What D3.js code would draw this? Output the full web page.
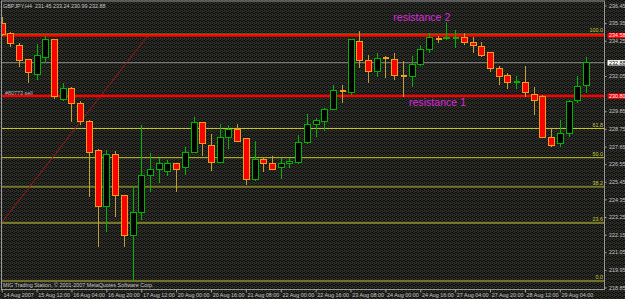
<!DOCTYPE html>
<html>
<head>
<meta charset="utf-8">
<script src="https://cdn.jsdelivr.net/npm/d3@7"></script>
<style>
  html, body { margin: 0; padding: 0; background: #1f1f1c; }
  svg { display: block; font-family: "Liberation Sans", Arial, sans-serif; }
</style>
</head>
<body>
<div id="chart"></div>
<script>
const title = 'GBPJPY,H4  231.45 233.24 230.99 232.88';
const footer = 'MIG Trading Station, \u00a9 2001-2007 MetaQuotes Software Corp.';
const orderLabel = '#80773 sell';

// H4 bars, left to right
const opens = [235.30, 234.73, 233.98, 233.05, 232.17, 233.23, 234.30, 230.61, 231.30, 230.36,
  229.18, 227.43, 223.93, 227.12, 224.62, 222.12, 223.50, 225.87, 226.24, 226.06,
  226.56, 226.31, 227.30, 229.12, 227.74, 226.68, 228.24, 228.74, 228.12, 225.56,
  226.81, 226.56, 226.31, 226.56, 226.68, 227.87, 229.05, 229.24, 229.99, 231.11,
  231.05, 234.23, 232.99, 232.30, 233.17, 233.11, 232.05, 231.99, 232.74, 233.73,
  234.36, 234.36, 234.42, 234.48, 234.17, 233.92, 233.49, 232.49, 232.11, 231.67,
  231.67, 230.92, 230.74, 228.24, 227.81, 228.49, 230.49, 231.45];
const highs = [235.73, 234.80, 234.11, 233.11, 234.05, 234.55, 234.36, 231.61, 231.36, 230.49,
  229.30, 227.49, 227.43, 227.37, 224.65, 225.18, 228.99, 227.24, 226.93, 226.81,
  226.62, 227.62, 229.49, 229.18, 228.43, 229.05, 228.99, 229.05, 228.18, 227.99,
  226.99, 227.05, 226.93, 226.93, 228.37, 229.68, 229.40, 230.05, 231.49, 231.49,
  234.36, 234.86, 233.36, 233.49, 233.30, 233.49, 232.99, 233.30, 233.98, 234.73,
  234.55, 235.42, 234.92, 234.73, 234.48, 234.17, 233.55, 232.67, 232.24, 232.05,
  232.67, 231.36, 230.86, 228.80, 229.30, 230.55, 232.05, 233.24];
const lows = [234.55, 233.86, 232.61, 231.61, 231.80, 232.86, 230.61, 230.49, 229.18, 228.99,
  224.49, 221.38, 222.31, 223.25, 221.38, 219.25, 223.06, 224.81, 225.37, 225.81,
  224.81, 225.87, 227.24, 227.05, 226.12, 226.62, 227.49, 227.93, 225.25, 225.50,
  226.06, 226.18, 225.62, 226.31, 226.56, 227.81, 228.24, 228.62, 229.90, 230.36,
  230.86, 232.55, 231.61, 231.99, 231.92, 231.80, 230.74, 231.36, 232.67, 233.49,
  234.11, 234.30, 233.80, 233.98, 233.49, 233.23, 232.30, 231.49, 231.24, 231.24,
  230.74, 229.61, 228.18, 227.62, 227.62, 228.24, 230.36, 230.99];
const closes = [234.67, 234.05, 232.99, 232.24, 233.30, 234.30, 230.74, 231.24, 230.36, 229.18,
  227.30, 223.93, 227.12, 224.62, 222.12, 223.50, 225.87, 226.24, 226.56, 226.62,
  226.24, 227.30, 229.12, 227.81, 226.68, 228.24, 228.74, 227.99, 225.56, 226.81,
  226.56, 226.24, 226.56, 226.74, 227.93, 229.05, 229.30, 229.93, 231.17, 231.11,
  234.30, 232.99, 232.30, 233.17, 233.17, 232.11, 232.05, 232.74, 233.73, 234.48,
  234.36, 234.48, 234.43, 234.11, 233.98, 233.36, 232.49, 232.05, 231.67, 231.68,
  230.99, 230.49, 228.24, 227.74, 228.49, 230.43, 231.42, 232.88];

const xTickBars = [0, 4, 8, 12, 16, 20, 24, 28, 32, 36, 40, 44, 48, 52, 56, 60, 64];
const xTickLabels = ['14 Aug 2007', '15 Aug 12:00', '16 Aug 04:00', '16 Aug 20:00', '17 Aug 12:00',
  '20 Aug 00:00', '20 Aug 16:00', '21 Aug 08:00', '22 Aug 00:00', '22 Aug 16:00', '23 Aug 08:00',
  '24 Aug 00:00', '24 Aug 16:00', '27 Aug 04:00', '27 Aug 20:00', '28 Aug 12:00', '29 Aug 04:00'];
const yTicks = [236.45, 235.35, 234.25, 233.15, 232.05, 230.95, 229.85, 228.75, 227.65,
  226.55, 225.45, 224.35, 223.25, 222.15, 221.05, 219.95, 218.85];

const fibLevels = [100, 61.8, 50, 38.2, 23.6, 0];
const fibHigh = 234.66;
const fibLow = 219.25;

const resistanceNames = ['resistance 2', 'resistance 1'];
const resistancePrices = [234.58, 230.80];
const resistanceTextBars = [44.9, 46.7];
const resistanceTextPrices = [235.50, 230.18];

const bidPrice = 232.88;
const trendBars = [0, 16.8];
const trendPrices = [222.90, 234.60];

const W = 625, H = 299;
const PLOT = { left: 1.5, top: 1, right: 604.5, bottom: 289.5 };
const FONT = 5.4;

const x = d3.scaleLinear().domain([0, 64]).range([1.7, 559.8]);
const y = d3.scaleLinear().domain([218.85, 236.45]).range([287.5, 5.5]);

const svg = d3.select('#chart').append('svg')
  .attr('width', W).attr('height', H).attr('viewBox', `0 0 ${W} ${H}`);

// speckled MT4 background
const defs = svg.append('defs');
const pat = defs.append('pattern').attr('id', 'noise')
  .attr('width', 4).attr('height', 4).attr('patternUnits', 'userSpaceOnUse');
pat.append('rect').attr('width', 4).attr('height', 4).attr('fill', '#2d2d29');
[[0, 0], [2, 1], [1, 3], [3, 2], [3, 0], [1, 1]].forEach(([a, b]) =>
  pat.append('rect').attr('x', a).attr('y', b).attr('width', 1).attr('height', 1).attr('fill', '#0b0b0a'));
svg.append('rect').attr('width', W).attr('height', H).attr('fill', 'url(#noise)');

defs.append('clipPath').attr('id', 'plot')
  .append('rect').attr('x', PLOT.left + 0.5).attr('y', PLOT.top + 0.5)
  .attr('width', PLOT.right - PLOT.left - 1).attr('height', PLOT.bottom - PLOT.top - 1);

const g = svg.append('g').attr('clip-path', 'url(#plot)');

// fibonacci levels
const fibPrice = (lv) => fibLow + (fibHigh - fibLow) * lv / 100;
const fibStyle = (lv) => (lv === 38.2 || lv === 23.6) ? { c: '#76762a', w: 2.2 }
  : lv === 0 ? { c: '#8e8e2c', w: 1.5 } : { c: '#c4c426', w: 1 };
g.selectAll('line.fib').data(fibLevels).join('line').attr('class', 'fib')
  .attr('x1', PLOT.left).attr('x2', PLOT.right)
  .attr('y1', (d) => y(fibPrice(d))).attr('y2', (d) => y(fibPrice(d)))
  .attr('stroke', (d) => fibStyle(d).c).attr('stroke-width', (d) => fibStyle(d).w);
g.selectAll('text.fib').data(fibLevels).join('text').attr('class', 'fib')
  .attr('x', PLOT.right - 1.5).attr('y', (d) => y(fibPrice(d)) - 1.8)
  .attr('text-anchor', 'end').attr('font-size', FONT).attr('fill', '#c8c83a')
  .text((d) => d.toFixed(1));

// bid line
g.append('line').attr('x1', PLOT.left).attr('x2', PLOT.right)
  .attr('y1', y(bidPrice)).attr('y2', y(bidPrice))
  .attr('stroke', '#8a8a8a').attr('stroke-width', 1);

// trend line
g.append('line')
  .attr('x1', x(trendBars[0])).attr('y1', y(trendPrices[0]))
  .attr('x2', x(trendBars[1])).attr('y2', y(trendPrices[1]))
  .attr('stroke', '#a01818').attr('stroke-width', 1);

// resistance lines
g.selectAll('line.res').data(resistancePrices).join('line').attr('class', 'res')
  .attr('x1', PLOT.left).attr('x2', PLOT.right)
  .attr('y1', (d) => y(d)).attr('y2', (d) => y(d))
  .attr('stroke', '#ff0000').attr('stroke-width', 2.6);

// candles
const bars = d3.range(opens.length);
const BULL = '#00b400', BEAR_FILL = '#ff0000', BEAR_EDGE = '#e8a018', BEAR_WICK = '#c0a030';
const candles = g.append('g').attr('shape-rendering', 'crispEdges');
candles.selectAll('line.wick').data(bars).join('line').attr('class', 'wick')
  .attr('x1', (i) => Math.round(x(i)) + 0.5).attr('x2', (i) => Math.round(x(i)) + 0.5)
  .attr('y1', (i) => y(highs[i])).attr('y2', (i) => y(lows[i]))
  .attr('stroke', (i) => closes[i] > opens[i] ? BULL : BEAR_WICK);
candles.selectAll('rect.body').data(bars.filter((i) => Math.abs(closes[i] - opens[i]) > 0.015))
  .join('rect').attr('class', 'body')
  .attr('x', (i) => Math.round(x(i)) - 2.5).attr('width', 6)
  .attr('y', (i) => y(Math.max(opens[i], closes[i])))
  .attr('height', (i) => Math.max(1, y(Math.min(opens[i], closes[i])) - y(Math.max(opens[i], closes[i]))))
  .attr('fill', (i) => closes[i] > opens[i] ? '#000000' : BEAR_FILL)
  .attr('stroke', (i) => closes[i] > opens[i] ? BULL : BEAR_EDGE);
candles.selectAll('line.doji').data(bars.filter((i) => Math.abs(closes[i] - opens[i]) <= 0.015))
  .join('line').attr('class', 'doji')
  .attr('x1', (i) => Math.round(x(i)) - 2.5).attr('x2', (i) => Math.round(x(i)) + 3.5)
  .attr('y1', (i) => y(opens[i])).attr('y2', (i) => y(opens[i]))
  .attr('stroke', (i) => closes[i] > opens[i] ? BULL : '#f0a020').attr('stroke-width', 1.4);

// resistance captions
g.selectAll('text.res').data(resistanceNames).join('text').attr('class', 'res')
  .attr('x', (d, i) => x(resistanceTextBars[i])).attr('y', (d, i) => y(resistanceTextPrices[i]))
  .attr('font-size', 10.6).attr('fill', '#dc28dc').text((d) => d);

// frame
svg.append('rect').attr('x', PLOT.left).attr('y', PLOT.top)
  .attr('width', PLOT.right - PLOT.left).attr('height', PLOT.bottom - PLOT.top)
  .attr('fill', 'none').attr('stroke', '#9a9a9a').attr('stroke-width', 1);

// texts in the plot
svg.append('text').attr('x', 3).attr('y', 8.2).attr('font-size', FONT)
  .attr('fill', '#c8c8c8').attr('xml:space', 'preserve').text(title);
svg.append('text').attr('x', 3).attr('y', 287.2).attr('font-size', FONT)
  .attr('fill', '#c8c8c8').text(footer);
svg.append('text').attr('x', 5).attr('y', 95).attr('font-size', FONT)
  .attr('fill', '#b8b8b8').text(orderLabel);

// price tags on the axis (they hide the grid labels beneath them)
const tagPrices = [resistancePrices[0], bidPrice, resistancePrices[1]];
const tagFill = ['#ff0000', '#ffffff', '#ff0000'];
const tagText = ['#ffffff', '#000000', '#ffffff'];
const visibleTicks = yTicks.filter((t) => tagPrices.every((p) => Math.abs(y(t) - y(p)) > 4.6));

// right price axis
const yAxis = d3.axisRight(y).tickValues(visibleTicks).tickSize(2).tickPadding(2.5)
  .tickFormat((d) => d.toFixed(2));
const ya = svg.append('g').attr('transform', `translate(${PLOT.right},0)`).call(yAxis);
ya.select('.domain').remove();
ya.selectAll('line').attr('stroke', '#a0a0a0');
ya.selectAll('text').attr('font-size', FONT).attr('fill', '#c4c4c4')
  .attr('font-family', '"Liberation Sans", Arial, sans-serif');

// bottom time axis
const xAxis = d3.axisBottom(x).tickValues(xTickBars).tickSize(3).tickPadding(1)
  .tickFormat((d, i) => xTickLabels[i]);
const xa = svg.append('g').attr('transform', `translate(0,${PLOT.bottom})`).call(xAxis);
xa.select('.domain').remove();
xa.selectAll('line').attr('stroke', '#a0a0a0');
xa.selectAll('text').attr('font-size', FONT).attr('fill', '#c4c4c4')
  .attr('text-anchor', 'start').attr('dx', 1.2)
  .attr('font-family', '"Liberation Sans", Arial, sans-serif');

const tags = svg.append('g');
tags.selectAll('rect').data(tagPrices).join('rect')
  .attr('x', PLOT.right + 3).attr('width', W - PLOT.right - 3)
  .attr('y', (d) => y(d) - 2.6).attr('height', 5.4)
  .attr('fill', (d, i) => tagFill[i]);
tags.selectAll('text').data(tagPrices).join('text')
  .attr('x', PLOT.right + 4.5).attr('y', (d) => y(d) + 2)
  .attr('font-size', FONT).attr('fill', (d, i) => tagText[i])
  .text((d) => d.toFixed(2));
</script>
</body>
</html>
